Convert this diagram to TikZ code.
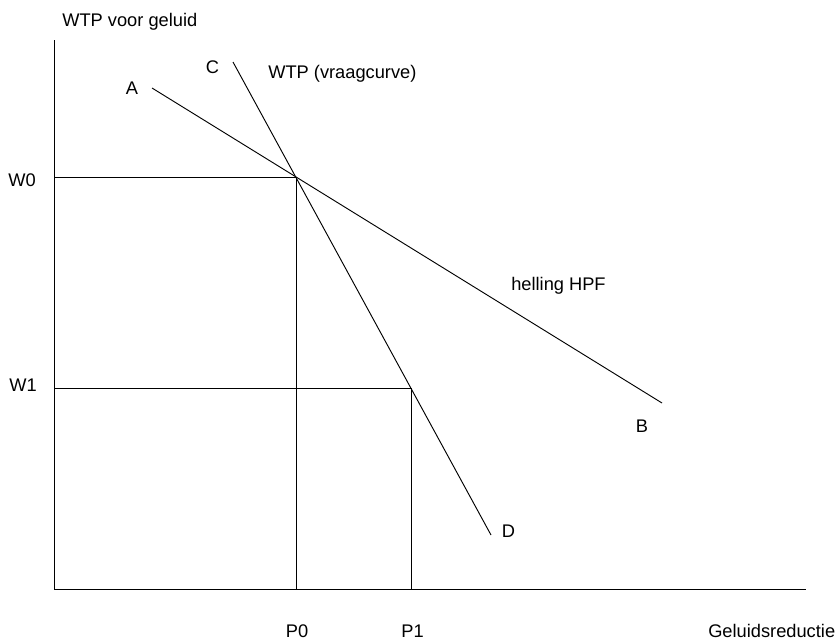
\documentclass[tikz,border=0pt]{standalone}
\usepackage{fontspec}
\setmainfont{Liberation Sans}
\begin{document}
\begin{tikzpicture}[x=0.75pt,y=-0.75pt,
  lbl/.style={inner sep=0pt,font=\fontsize{13.7}{16}\selectfont},
  ln/.style={line width=0.7pt,black}]
\useasboundingbox (0,0) rectangle (839,643);
% coordinates
\coordinate (O) at (54,589);
\coordinate (Ytop) at (54,40);
\coordinate (Xend) at (806,589);
\coordinate (W0l) at (54,177);
\coordinate (X0) at (296,177);
\coordinate (P0b) at (296,589);
\coordinate (W1l) at (54,388);
\coordinate (X1) at (411,388);
\coordinate (P1b) at (411,589);
\coordinate (Aend) at (152,88);
\coordinate (Bend) at (662,403);
\coordinate (Cend) at (233,62);
\coordinate (Dend) at (491,535);
% axes
\draw[ln] (Ytop) -- (O) -- (Xend);
% guide lines
\draw[ln] (W0l) -- (X0) -- (P0b);
\draw[ln] (W1l) -- (X1) -- (P1b);
% curves
\draw[ln] (Aend) -- (Bend);
\draw[ln] (Cend) -- (Dend);
% labels
\node[lbl,anchor=base west] (ylab) at (62,26) {WTP voor geluid};
\node[lbl,anchor=base] (A) at (132,94) {A};
\node[lbl,anchor=base] (C) at (212.5,73.5) {C};
\node[lbl,anchor=base west] (wtp) at (268,78) {WTP (vraagcurve)};
\node[lbl,anchor=base west] (W0) at (8,186) {W0};
\node[lbl,anchor=base west] (W1) at (9,391) {W1};
\node[lbl,anchor=base west] (hpf) at (511,290.5) {helling HPF};
\node[lbl,anchor=base] (B) at (642,432) {B};
\node[lbl,anchor=base] (D) at (508.5,537) {D};
\node[lbl,anchor=base] (P0) at (297,637) {P0};
\node[lbl,anchor=base] (P1) at (412.5,637) {P1};
\node[lbl,anchor=base west] (xlab) at (708,637) {Geluidsreductie};
\end{tikzpicture}
\end{document}
